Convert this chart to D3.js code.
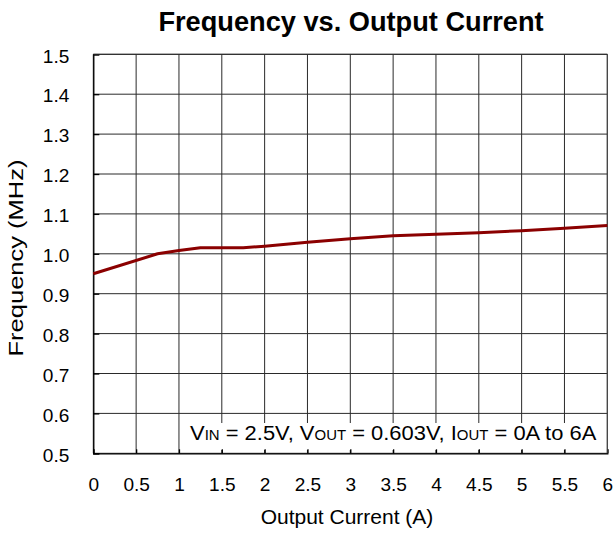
<!DOCTYPE html>
<html>
<head>
<meta charset="utf-8">
<script src="https://cdn.jsdelivr.net/npm/d3@7"></script>
<style>
  html, body { margin: 0; padding: 0; background: #fff; }
  svg { display: block; }
  text { font-family: "Liberation Sans", Arial, sans-serif; fill: #000; }
</style>
</head>
<body>
<svg id="chart" width="614" height="534"></svg>
<script>
// Data
const currentA = [0, 0.75, 1, 1.25, 1.75, 2, 2.5, 3, 3.5, 4, 4.5, 5, 5.5, 6];
const freqMHz  = [0.95, 1.0, 1.008, 1.015, 1.015, 1.019, 1.029, 1.038, 1.045, 1.049, 1.053, 1.058, 1.064, 1.071];
const xTicks = [0, 0.5, 1, 1.5, 2, 2.5, 3, 3.5, 4, 4.5, 5, 5.5, 6];
const yTicks = [0.5, 0.6, 0.7, 0.8, 0.9, 1.0, 1.1, 1.2, 1.3, 1.4, 1.5];
const titleText = "Frequency vs. Output Current";
const xLabel = "Output Current (A)";
const yLabel = "Frequency (MHz)";
const annotation = [["V", false], ["IN", true], [" = 2.5V, V", false], ["OUT", true], [" = 0.603V, I", false], ["OUT", true], [" = 0A to 6A", false]];

const svg = d3.select("#chart");
const m = { left: 93.3, right: 607.3, top: 54.3, bottom: 453.3 };
const stretch = 1.09;

const x = d3.scaleLinear().domain([0, 6]).range([m.left, m.right]);
const y = d3.scaleLinear().domain([0.5, 1.5]).range([m.bottom, m.top]);

// Gridlines
const grid = svg.append("g");
grid.selectAll("line.v").data(xTicks).join("line")
  .attr("x1", d => x(d)).attr("x2", d => x(d))
  .attr("y1", m.top).attr("y2", m.bottom)
  .attr("stroke", "#2a2a2a").attr("stroke-width", 1);
grid.selectAll("line.h").data(yTicks).join("line")
  .attr("x1", m.left).attr("x2", m.right)
  .attr("y1", d => y(d)).attr("y2", d => y(d))
  .attr("stroke", "#2a2a2a").attr("stroke-width", 1);

// Annotation box (white background hides grid)
svg.append("rect")
  .attr("x", 186).attr("y", 423).attr("width", 420).attr("height", 27)
  .attr("fill", "#fff");

const ann = svg.append("g").attr("transform", "translate(190,439.5) scale(1.07,1)")
  .append("text").attr("x", 0).attr("y", 0).attr("font-size", 20.5);
annotation.forEach(([t, sub]) => {
  ann.append("tspan").attr("font-size", sub ? 14 : 20.5).text(t);
});

// Axes with inward ticks
const xAxis = d3.axisBottom(x).tickValues(xTicks).tickSize(-4).tickPadding(0).tickFormat(d3.format("~g"));
const gx = svg.append("g").attr("transform", `translate(0,${m.bottom})`).call(xAxis);
gx.select(".domain").attr("stroke", "#000").attr("stroke-width", 1.3);
gx.selectAll(".tick line").attr("stroke", "#000").attr("stroke-width", 1.3);
gx.selectAll(".tick text").attr("font-size", 17.5).attr("font-family", "Liberation Sans, Arial, sans-serif")
  .attr("fill", "#000").attr("y", 0).attr("dy", 0)
  .attr("transform", `translate(0,37.5) scale(${stretch},1)`);

const yAxis = d3.axisLeft(y).tickValues(yTicks).tickSize(-6).tickPadding(0).tickFormat(d3.format(".1f"));
const gy = svg.append("g").attr("transform", `translate(${m.left},0)`).call(yAxis);
gy.select(".domain").attr("stroke", "#000").attr("stroke-width", 1.3);
gy.selectAll(".tick line").attr("stroke", "#000").attr("stroke-width", 1.3);
gy.selectAll(".tick text").attr("font-size", 17.5).attr("font-family", "Liberation Sans, Arial, sans-serif")
  .attr("fill", "#000").attr("x", 0).attr("dy", "0.44em")
  .attr("transform", `translate(-24,0) scale(${stretch},1)`);

// Right and top borders
svg.append("line").attr("x1", m.right).attr("x2", m.right).attr("y1", m.top).attr("y2", m.bottom)
  .attr("stroke", "#444").attr("stroke-width", 1);
svg.append("line").attr("x1", m.left).attr("x2", m.right).attr("y1", m.top).attr("y2", m.top)
  .attr("stroke", "#2a2a2a").attr("stroke-width", 1);

// Data line
const pts = currentA.map((c, i) => [c, freqMHz[i]]);
svg.append("path")
  .datum(pts)
  .attr("fill", "none")
  .attr("stroke", "#8b0000")
  .attr("stroke-width", 3)
  .attr("stroke-linejoin", "round")
  .attr("d", d3.line().x(d => x(d[0])).y(d => y(d[1])));

// Title
svg.append("text")
  .attr("x", 351).attr("y", 30.5)
  .attr("text-anchor", "middle")
  .attr("font-size", 27.2).attr("font-weight", "bold")
  .text(titleText);

// Axis titles
svg.append("text")
  .attr("x", 347).attr("y", 524)
  .attr("text-anchor", "middle")
  .attr("font-size", 21)
  .text(xLabel);

svg.append("text")
  .attr("transform", "translate(23,258) rotate(-90)")
  .attr("text-anchor", "middle")
  .attr("font-size", 21)
  .attr("textLength", 197)
  .attr("lengthAdjust", "spacingAndGlyphs")
  .text(yLabel);
</script>
</body>
</html>
